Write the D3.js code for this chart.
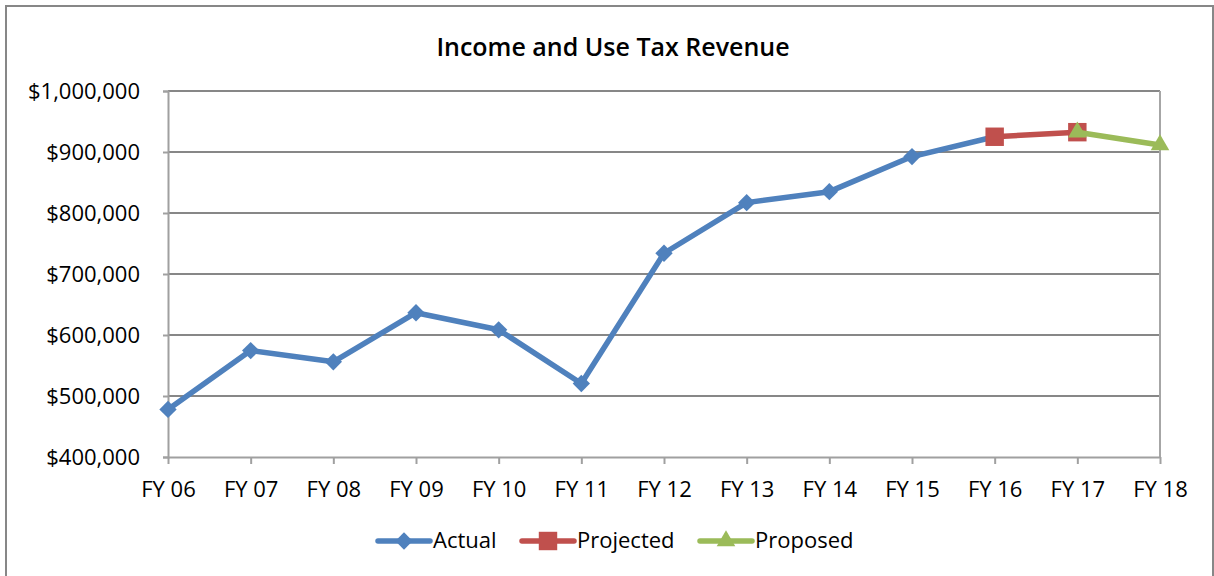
<!DOCTYPE html>
<html>
<head>
<meta charset="utf-8">
<script src="https://cdn.jsdelivr.net/npm/d3@7"></script>
<style>
  body { margin: 0; background: #fff; }
  svg { display: block; font-family: "Open Sans", Lato, sans-serif; }
</style>
</head>
<body>
<div id="viz"></div>
<script>
const years = ["FY 06", "FY 07", "FY 08", "FY 09", "FY 10", "FY 11", "FY 12",
               "FY 13", "FY 14", "FY 15", "FY 16", "FY 17", "FY 18"];

// revenue by series
const actualYears = ["FY 06", "FY 07", "FY 08", "FY 09", "FY 10", "FY 11",
                     "FY 12", "FY 13", "FY 14", "FY 15", "FY 16"];
const actual = [478000, 574500, 556000, 636500, 608500, 520500,
                734000, 817000, 835000, 892500, 925000];
const projectedYears = ["FY 16", "FY 17"];
const projected = [925000, 932500];
const proposedYears = ["FY 17", "FY 18"];
const proposed = [932500, 911500];

const yTicks = [400000, 500000, 600000, 700000, 800000, 900000, 1000000];

const width = 1214;
const height = 576;

const svg = d3.select("#viz")
    .append("svg")
    .attr("width", width)
    .attr("height", height);

// chart border
svg.append("rect")
    .attr("x", 6).attr("y", 6)
    .attr("width", 1207).attr("height", 600)
    .attr("fill", "#fff")
    .attr("stroke", "#878787")
    .attr("stroke-width", 2);

svg.append("text")
    .attr("x", 613).attr("y", 56)
    .attr("text-anchor", "middle")
    .attr("font-size", 25)
    .attr("font-weight", 600)
    .attr("fill", "#000")
    .text("Income and Use Tax Revenue");

const margin = {top: 91, left: 168, right: 1160, bottom: 457};

const x = d3.scalePoint()
    .domain(years)
    .range([margin.left, margin.right]);

const y = d3.scaleLinear()
    .domain([400000, 1000000])
    .range([margin.bottom, margin.top]);

const fmt = d => "$" + d3.format(",")(d);

// gridlines
svg.append("g")
    .selectAll("line")
    .data(yTicks.slice(1))
    .enter().append("line")
        .attr("x1", margin.left).attr("x2", margin.right)
        .attr("y1", d => y(d)).attr("y2", d => y(d))
        .attr("stroke", "#878787")
        .attr("stroke-width", 2);

// right edge of plot
svg.append("line")
    .attr("x1", margin.right).attr("x2", margin.right)
    .attr("y1", margin.top).attr("y2", margin.bottom)
    .attr("stroke", "#a6a6a6")
    .attr("stroke-width", 2);

// y axis
const yAxis = svg.append("g")
    .attr("transform", `translate(${margin.left},0)`)
    .call(d3.axisLeft(y).tickValues(yTicks).tickFormat(fmt).tickSize(5).tickPadding(23));
yAxis.selectAll("path, line").attr("stroke", "#a0a0a0").attr("stroke-width", 2);
yAxis.selectAll("text")
    .attr("font-size", 22)
    .attr("font-family", "'Open Sans', sans-serif")
    .attr("fill", "#000");

// x axis
const xAxis = svg.append("g")
    .attr("transform", `translate(0,${margin.bottom})`)
    .call(d3.axisBottom(x).tickSize(7).tickPadding(17).tickSizeOuter(0));
xAxis.selectAll("path, line").attr("stroke", "#a0a0a0").attr("stroke-width", 2);
xAxis.selectAll("text")
    .attr("font-size", 22)
    .attr("font-family", "'Open Sans', sans-serif")
    .attr("fill", "#000");

const line = d3.line()
    .x(d => x(d[0]))
    .y(d => y(d[1]));

const series = [
    {name: "Actual", color: "#4f81bd", shape: d3.symbolSquare, size: 150, rot: 45,
     pts: d3.zip(actualYears, actual)},
    {name: "Projected", color: "#c0504d", shape: d3.symbolSquare, size: 340, rot: 0,
     pts: d3.zip(projectedYears, projected)},
    {name: "Proposed", color: "#9bbb59", shape: d3.symbolTriangle, size: 150, rot: 0,
     pts: d3.zip(proposedYears, proposed)}
];

series.forEach(s => {
    svg.append("path")
        .datum(s.pts)
        .attr("fill", "none")
        .attr("stroke", s.color)
        .attr("stroke-width", 5.5)
        .attr("stroke-linejoin", "round")
        .attr("stroke-linecap", "round")
        .attr("d", line);
    svg.append("g")
        .selectAll("path")
        .data(s.pts)
        .enter().append("path")
            .attr("transform", d => `translate(${x(d[0])},${y(d[1])}) rotate(${s.rot})`)
            .attr("d", d3.symbol().type(s.shape).size(s.size))
            .attr("fill", s.color);
});

// legend
const legendX = [378, 522, 700];
const legend = svg.append("g");
series.forEach((s, i) => {
    const g = legend.append("g").attr("transform", `translate(${legendX[i]},541)`);
    g.append("line")
        .attr("x1", 0).attr("x2", 52)
        .attr("stroke", s.color)
        .attr("stroke-width", 5.5)
        .attr("stroke-linecap", "round");
    g.append("path")
        .attr("transform", `translate(26,0) rotate(${s.rot})`)
        .attr("d", d3.symbol().type(s.shape).size(s.size))
        .attr("fill", s.color);
    g.append("text")
        .attr("x", 55).attr("y", 7)
        .attr("font-size", 22)
        .attr("fill", "#000")
        .text(s.name);
});
</script>
</body>
</html>
